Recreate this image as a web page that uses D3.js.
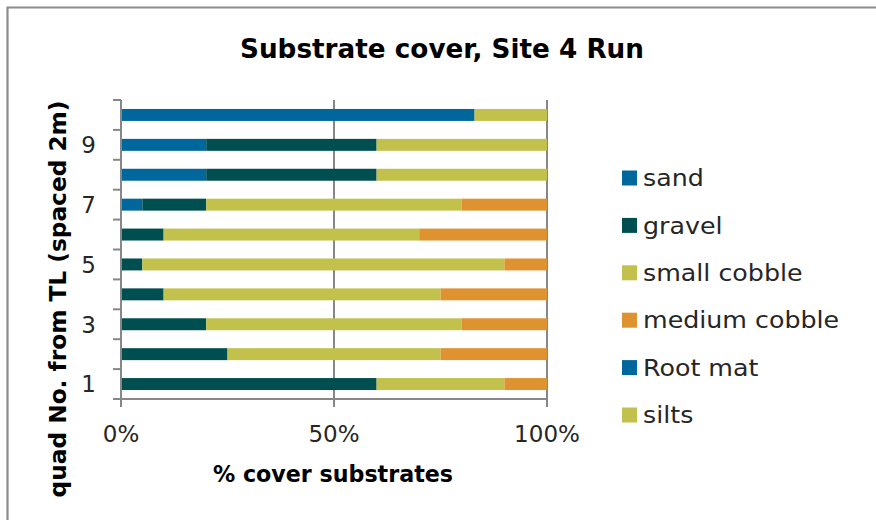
<!DOCTYPE html>
<html>
<head>
<meta charset="utf-8">
<script src="https://cdn.jsdelivr.net/npm/d3@7"></script>
<style>
  html, body { margin: 0; padding: 0; background: #ffffff; overflow: hidden; }
  svg { display: block; }
  text { font-family: "DejaVu Sans", sans-serif; }
</style>
</head>
<body>
<svg id="chart" width="876" height="520"></svg>
<script>
// Quadrat numbers, bottom (1) to top (10)
const quads = [1, 2, 3, 4, 5, 6, 7, 8, 9, 10];

// Percent cover of each substrate per quadrat
const seriesNames = ["sand", "gravel", "small cobble", "medium cobble", "Root mat", "silts"];
const sand         = [0, 0, 0, 0, 0, 0, 5, 20, 20, 0];
const gravel       = [60, 25, 20, 10, 5, 10, 15, 40, 40, 0];
const smallCobble  = [30, 50, 60, 65, 85, 60, 60, 40, 40, 0];
const mediumCobble = [10, 25, 20, 25, 10, 30, 20, 0, 0, 0];
const rootMat      = [0, 0, 0, 0, 0, 0, 0, 0, 0, 83];
const silts        = [0, 0, 0, 0, 0, 0, 0, 0, 0, 17];
const seriesColors = ["#00679c", "#004f50", "#c1c14c", "#de9330", "#00679c", "#c1c14c"];

// Axis tick labels
const xTicks = [0, 0.5, 1];
const yTickLabels = [1, 3, 5, 7, 9];

const title = "Substrate cover, Site 4 Run";
const xTitle = "% cover substrates";
const yTitle = "quad No. from TL (spaced 2m)";

const seriesValues = [sand, gravel, smallCobble, mediumCobble, rootMat, silts];
const rows = quads.map((q, i) => {
  const r = { quad: q };
  seriesNames.forEach((n, k) => { r[n] = seriesValues[k][i]; });
  return r;
});

const svg = d3.select("#chart");
const axisColor = "#878787";
const textColor = "#262626";

// Chart frame (top and left edges fall inside the canvas)
svg.append("path")
  .attr("d", "M7.5,520 V7.5 H876")
  .attr("fill", "none").attr("stroke", "#8c8c8c").attr("stroke-width", 2.2);

const plot = { left: 121, right: 547, top: 100, bottom: 399 };

const x = d3.scaleLinear().domain([0, 1]).range([plot.left, plot.right]);
const y = d3.scaleBand().domain(quads).range([plot.bottom, plot.top])
  .paddingInner(0.6).paddingOuter(0.3);

const stack = d3.stack().keys(seriesNames).offset(d3.stackOffsetExpand);
const stacked = stack(rows);

// Vertical gridlines
svg.append("g")
  .selectAll("line")
  .data(xTicks.filter(t => t > 0))
  .join("line")
  .attr("x1", d => x(d)).attr("x2", d => x(d))
  .attr("y1", plot.top).attr("y2", plot.bottom)
  .attr("stroke", axisColor).attr("stroke-width", 2);

// Bars
svg.append("g")
  .selectAll("g")
  .data(stacked)
  .join("g")
  .attr("fill", (d, i) => seriesColors[i])
  .selectAll("rect")
  .data(d => d)
  .join("rect")
  .attr("x", d => x(d[0]))
  .attr("width", d => Math.max(0, x(d[1]) - x(d[0])))
  .attr("y", d => y(d.data.quad))
  .attr("height", y.bandwidth());

// Y axis: ticks at category boundaries, labels on odd quadrats
const step = y.step();
const boundaries = d3.range(quads.length + 1).map(i => plot.bottom - i * step);
const yAxis = svg.append("g");
yAxis.append("line")
  .attr("x1", plot.left).attr("x2", plot.left)
  .attr("y1", plot.top).attr("y2", plot.bottom)
  .attr("stroke", axisColor).attr("stroke-width", 2);
yAxis.selectAll("line.tick")
  .data(boundaries)
  .join("line").attr("class", "tick")
  .attr("x1", plot.left - 8).attr("x2", plot.left)
  .attr("y1", d => d).attr("y2", d => d)
  .attr("stroke", axisColor).attr("stroke-width", 2);
yAxis.selectAll("text")
  .data(yTickLabels)
  .join("text")
  .attr("x", 96)
  .attr("y", d => y(d) + y.bandwidth() / 2)
  .attr("dy", "0.36em")
  .attr("text-anchor", "end")
  .attr("font-size", 23)
  .attr("fill", textColor)
  .text(d => d);

// X axis
const xAxis = svg.append("g");
xAxis.append("line")
  .attr("x1", plot.left - 8).attr("x2", plot.right)
  .attr("y1", plot.bottom).attr("y2", plot.bottom)
  .attr("stroke", axisColor).attr("stroke-width", 2);
xAxis.selectAll("line.tick")
  .data(xTicks)
  .join("line").attr("class", "tick")
  .attr("x1", d => x(d)).attr("x2", d => x(d))
  .attr("y1", plot.bottom).attr("y2", plot.bottom + 8)
  .attr("stroke", axisColor).attr("stroke-width", 2);
xAxis.selectAll("text")
  .data(xTicks)
  .join("text")
  .attr("x", d => x(d))
  .attr("y", 442)
  .attr("text-anchor", "middle")
  .attr("font-size", 23)
  .attr("fill", textColor)
  .text(d3.format(".0%"));

// Widen glyph runs to the geometric face proportions
function stretch(sel, factor) {
  sel.each(function () {
    const w = this.getComputedTextLength();
    d3.select(this).attr("textLength", w * factor).attr("lengthAdjust", "spacingAndGlyphs");
  });
}

// Titles
svg.append("text")
  .attr("x", 442).attr("y", 58)
  .attr("text-anchor", "middle")
  .attr("font-size", 27).attr("font-weight", "bold")
  .attr("fill", "#000")
  .text(title)
  .attr("textLength", 404).attr("lengthAdjust", "spacingAndGlyphs");

svg.append("text")
  .attr("x", 333).attr("y", 482)
  .attr("text-anchor", "middle")
  .attr("font-size", 23).attr("font-weight", "bold")
  .attr("fill", "#000")
  .text(xTitle)
  .attr("textLength", 240).attr("lengthAdjust", "spacingAndGlyphs");

svg.append("text")
  .attr("transform", "translate(66,299) rotate(-90)")
  .attr("text-anchor", "middle")
  .attr("font-size", 23).attr("font-weight", "bold")
  .attr("fill", "#000")
  .text(yTitle)
  .attr("textLength", 397).attr("lengthAdjust", "spacingAndGlyphs");

// Legend
const legend = svg.append("g");
const legendItems = legend.selectAll("g")
  .data(seriesNames)
  .join("g")
  .attr("transform", (d, i) => `translate(622, ${178 + i * 47.4})`);
legendItems.append("rect")
  .attr("x", 0).attr("y", -7.5)
  .attr("width", 15).attr("height", 15)
  .attr("fill", (d, i) => seriesColors[i]);
const legendText = legendItems.append("text")
  .attr("x", 21).attr("y", 0)
  .attr("dy", "0.36em")
  .attr("font-size", 23)
  .attr("fill", textColor)
  .text(d => d);
stretch(legendText, 1.1);
</script>
</body>
</html>
